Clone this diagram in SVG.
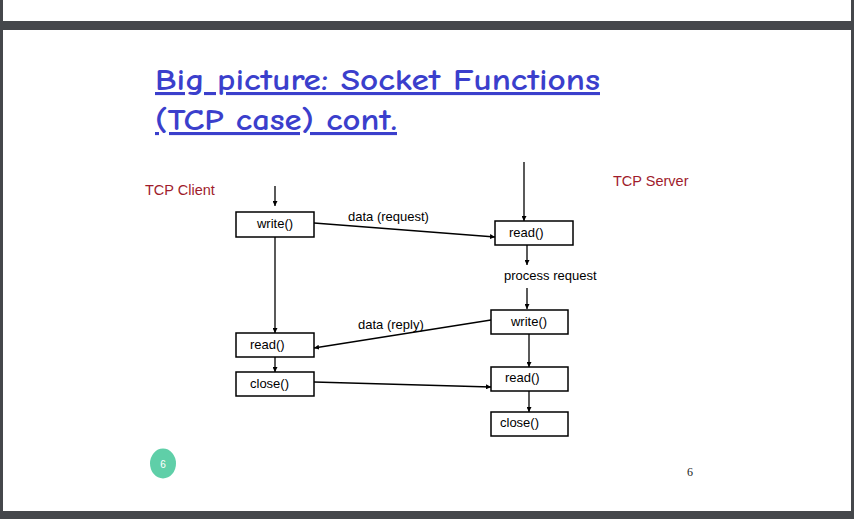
<svg xmlns="http://www.w3.org/2000/svg" width="854" height="519" viewBox="0 0 854 519">
<defs>
<marker id="ah" viewBox="0 0 10 10" refX="10" refY="5" markerWidth="5" markerHeight="5" orient="auto" markerUnits="userSpaceOnUse"><path d="M0,0 L10,5 L0,10 z" fill="#000"/></marker>
</defs>
<style>
.box{fill:#fff;stroke:#000;stroke-width:1.5}
.lbl{font-family:"Liberation Sans",Arial,sans-serif;font-size:13px;fill:#000}
.side{font-family:"Liberation Sans",Arial,sans-serif;font-size:14.5px;fill:#a01c2c}
.title{font-family:"Comic Neue","DejaVu Sans",sans-serif;font-size:31px;font-weight:bold;fill:#3b3fcc;text-decoration:underline}
.con{stroke:#000;stroke-width:1.3;fill:none;marker-end:url(#ah)}
</style>
<rect width="854" height="519" fill="#fff"/>
<rect x="0" y="21" width="854" height="9" fill="#45474b"/>
<rect x="0" y="511" width="854" height="8" fill="#45474b"/>
<rect x="0" y="0" width="3" height="519" fill="#45474b"/>
<rect x="851" y="0" width="3" height="519" fill="#45474b"/>
<text class="title" x="155" y="90" textLength="445" lengthAdjust="spacingAndGlyphs">Big picture: Socket Functions</text>
<text class="title" x="155" y="130" textLength="242" lengthAdjust="spacingAndGlyphs">(TCP case) cont.</text>
<text class="side" x="145" y="195">TCP Client</text>
<text class="side" x="613" y="186">TCP Server</text>
<g id="connectors">
<line class="con" x1="275" y1="186" x2="275" y2="206"/>
<line class="con" x1="275" y1="237" x2="275" y2="333"/>
<line class="con" x1="275" y1="357" x2="275" y2="372"/>
<line class="con" x1="314" y1="223" x2="495" y2="237"/>
<line class="con" x1="524" y1="162" x2="524" y2="221"/>
<line class="con" x1="527" y1="245" x2="527" y2="265"/>
<line class="con" x1="527" y1="288" x2="527" y2="309"/>
<line class="con" x1="491" y1="320" x2="314" y2="348"/>
<line class="con" x1="529" y1="334" x2="529" y2="367"/>
<line class="con" x1="529" y1="391" x2="529" y2="412"/>
<line class="con" x1="314" y1="382" x2="491" y2="387"/>
<text class="lbl" x="348" y="221">data (request)</text>
<text class="lbl" x="504" y="280">process request</text>
<text class="lbl" x="358" y="329">data (reply)</text>
</g>
<g id="c-write"><rect class="box" x="236" y="212" width="78" height="25"/><text class="lbl" x="275" y="228" text-anchor="middle">write()</text></g>
<g id="s-read1"><rect class="box" x="495" y="221" width="78" height="24"/><text class="lbl" x="509" y="237">read()</text></g>
<g id="s-write"><rect class="box" x="491" y="310" width="77" height="24"/><text class="lbl" x="529" y="326" text-anchor="middle">write()</text></g>
<g id="c-read"><rect class="box" x="236" y="333" width="78" height="24"/><text class="lbl" x="250" y="349">read()</text></g>
<g id="c-close"><rect class="box" x="236" y="372" width="78" height="24"/><text class="lbl" x="250" y="388">close()</text></g>
<g id="s-read2"><rect class="box" x="491" y="367" width="77" height="24"/><text class="lbl" x="505" y="382">read()</text></g>
<g id="s-close"><rect class="box" x="491" y="412" width="77" height="24"/><text class="lbl" x="500" y="427">close()</text></g>
<g id="badge"><ellipse cx="163" cy="463.5" rx="13" ry="15" fill="#5fcfa8"/><text x="163" y="467.5" text-anchor="middle" font-family="Liberation Sans,Arial,sans-serif" font-size="10" fill="#fff">6</text></g>
<text x="690" y="476" text-anchor="middle" font-family="Liberation Serif,serif" font-size="12" fill="#222">6</text>
</svg>
